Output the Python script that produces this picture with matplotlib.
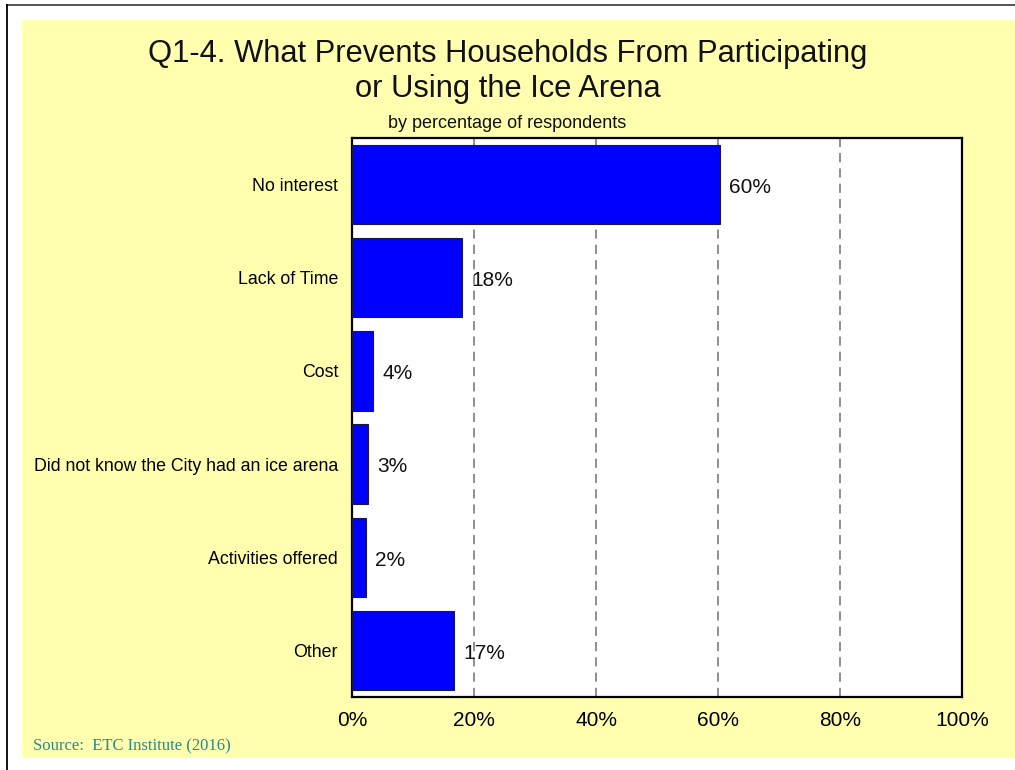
import matplotlib
matplotlib.use("Agg")
import matplotlib.pyplot as plt
from matplotlib.patches import Rectangle
from matplotlib.lines import Line2D

categories = ["No interest", "Lack of Time", "Cost",
              "Did not know the City had an ice arena",
              "Activities offered", "Other"]
values = [60.4, 18.1, 3.5, 2.7, 2.3, 16.7]
value_labels = ["60%", "18%", "4%", "3%", "2%", "17%"]
xticks = [0, 20, 40, 60, 80, 100]
xtick_labels = ["0%", "20%", "40%", "60%", "80%", "100%"]

W, H = 1015, 770
fig = plt.figure(figsize=(W / 100, H / 100), dpi=100)
fig.patch.set_facecolor("white")

def fx(px):
    return px / W

def fy(py):
    return 1 - py / H

# yellow panel
fig.patches.append(Rectangle((fx(22), fy(758)), fx(1015) - fx(22), fy(20) - fy(758),
                             transform=fig.transFigure, facecolor="#FFFFAF",
                             edgecolor="none", zorder=-10))
# border lines
fig.lines.append(Line2D([fx(7), fx(1015)], [fy(4.5), fy(4.5)], transform=fig.transFigure,
                        color="#444444", lw=1.3, zorder=-5))
fig.lines.append(Line2D([fx(7), fx(7)], [fy(4.5), fy(770)], transform=fig.transFigure,
                        color="black", lw=1.3, zorder=-5))

ax = fig.add_axes([fx(352), fy(697), fx(962) - fx(352), fy(138) - fy(697)])
ax.set_zorder(5)
ax.set_facecolor("white")
ypos = list(range(len(categories)))
ax.barh(ypos, values, height=0.85, color="#0000FF", edgecolor="#1a1a40",
        linewidth=0.8, zorder=3)
ax.set_xlim(0, 100)
ax.set_ylim(len(categories) - 0.5, -0.5)
ax.set_yticks(ypos)
ax.set_yticklabels(categories, fontsize=12.8, fontfamily="Liberation Sans")
ax.set_xticks(xticks)
ax.set_xticklabels(xtick_labels, fontsize=15, fontfamily="Liberation Sans")
ax.tick_params(axis="both", length=0)
ax.tick_params(axis="x", pad=10)
ax.tick_params(axis="y", pad=10)
for s in ax.spines.values():
    s.set_linewidth(1.6)
    s.set_color("black")
ax.xaxis.grid(True, color="#707070", lw=1.1, dashes=(6, 4), zorder=1)
ax.set_axisbelow(True)

for y, v, lab in zip(ypos, values, value_labels):
    ax.annotate(lab, xy=(v, y), xytext=(6.5, -2), textcoords="offset points",
                va="center", ha="left", fontsize=15, fontfamily="Liberation Sans",
                color="#111111", zorder=4)

fig.text(0.5, fy(62), "Q1-4. What Prevents Households From Participating",
         ha="center", va="baseline", fontsize=22.2, fontfamily="Liberation Sans", color="#111111")
fig.text(0.5, fy(97), "or Using the Ice Arena",
         ha="center", va="baseline", fontsize=22.2, fontfamily="Liberation Sans", color="#111111")
fig.text(0.5, fy(123), "by percentage of respondents",
         ha="center", va="center", fontsize=13, fontfamily="Liberation Sans", color="#111111")
fig.text(fx(33), fy(750), "Source:  ETC Institute (2016)",
         ha="left", va="baseline", fontsize=12, fontfamily="Liberation Serif", color="#2a8a8a")

fig.savefig("out.png", dpi=100, facecolor=fig.get_facecolor())
